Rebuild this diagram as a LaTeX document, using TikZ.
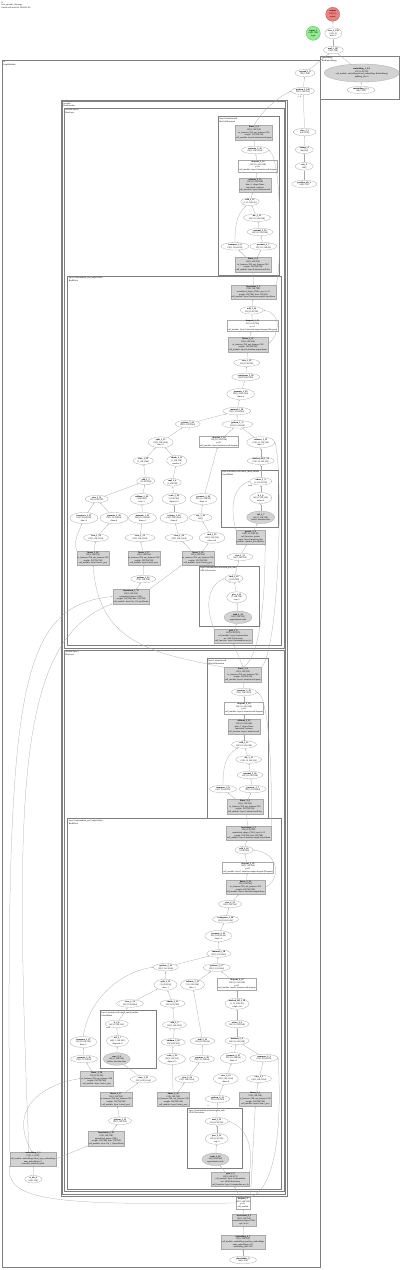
\documentclass[tikz,border=0pt]{standalone}
\usepackage{fontspec}
\setmainfont{Liberation Serif}
\usetikzlibrary{arrows.meta,shapes.geometric}
\definecolor{edgeGray}{HTML}{A8A8A8}
\definecolor{boxGray}{HTML}{7F7F7F}
\definecolor{fillGray}{HTML}{D3D3D3}
\definecolor{inGreen}{HTML}{90EE90}
\definecolor{outRed}{HTML}{F08080}
\begin{document}
\begin{tikzpicture}[x=1pt, y=-1pt,
  font=\fontsize{2.2}{2.7}\selectfont,
  op/.style={ellipse, draw=edgeGray, line width=0.3pt, inner sep=0pt, minimum width=#1, minimum height=7.5pt, align=center},
  op/.default=24pt,
  opt/.style={op=#1, minimum height=11pt},
  opt/.default=26pt,
  gop/.style={op=#1, minimum height=12.5pt, fill=fillGray},
  gop/.default=28pt,
  fn/.style={rectangle, fill=fillGray, draw=fillGray!80!black, line width=0.2pt, inner sep=0.7pt, align=center},
  mod/.style={rectangle, fill=white, draw=edgeGray, line width=0.3pt, inner sep=0.7pt, align=center},
  clus/.style={draw=boxGray, line width=0.5pt},
  clab/.style={anchor=north west, inner sep=0.5pt, align=left},
  io/.style={circle, inner sep=0pt, minimum size=14pt, align=center, fill=#1, draw=#1!70!black, line width=0.3pt},
  flow/.style={-{Latex[length=1.4pt,width=1.1pt]}, draw=edgeGray, line width=0.25pt},
  elab/.style={inner sep=0.2pt, font=\fontsize{1.8}{2}\selectfont}
]
\useasboundingbox (0,0) rectangle (400,1270);
\node[clab] (title) at (1,1) {G\\bert\_encoder\_2layer.py\\traced with torch.fx, 2024-01-09};

% clusters
\draw[clus, line width=1pt] (2,60) rectangle (320,1267);
\node[clab] at (2.5,60.5) {fx\\GraphModule};
\draw[clus, line width=0.8pt] (320.7,56) rectangle (399,99);
\node[clab] at (321.2,56.5) {embeddings\\BertEmbeddings};
\draw[clus] (61,100) rectangle (287,1196);
\draw[clus] (62.5,101.5) rectangle (285.5,1194.5);
\node[clab] at (63,102) {encoder\\BertEncoder};
\draw[clus] (64.3,108) rectangle (284,648);
\node[clab] at (64.8,108.5) {encoder.layer.0\\BertLayer};
\draw[clus] (218.3,116.7) rectangle (279,275);
\node[clab] at (218.8,117.2) {layer.0.attention.self\\BertSelfAttention};
\draw[clus] (67.7,276) rectangle (281.7,645.5);
\node[clab] at (68.2,276.5) {layer.0.intermediate\_and\_output.block\\BertBlock};
\draw[clus] (221,470) rectangle (278,527);
\node[clab] at (221.5,470.5) {layer.0.attention.self.causal\_mask\_builder\\CausalMask};
\draw[clus] (199.3,566) rectangle (259.3,626);
\node[clab] at (199.8,566.5) {layer.0.intermediate.activation.gelu\_tanh\\GELUActivation};
\draw[clus] (64.3,650) rectangle (284,1191.5);
\node[clab] at (64.8,650.5) {encoder.layer.1\\BertLayer};
\draw[clus] (207.3,658.7) rectangle (268.3,818);
\node[clab] at (207.8,659.2) {layer.1.attention.self\\BertSelfAttention};
\draw[clus] (67.7,818.7) rectangle (281.7,1189);
\node[clab] at (68.2,819.2) {layer.1.intermediate\_and\_output.block\\BertBlock};
\draw[clus] (100,1010.7) rectangle (156.7,1068.3);
\node[clab] at (100.5,1011.2) {layer.1.attention.self.causal\_mask\_builder\\CausalMask};
\draw[clus] (187.7,1108.3) rectangle (242.3,1168.3);
\node[clab] at (188.2,1108.8) {layer.1.intermediate.activation.gelu\_tanh\\GELUActivation};

% output side
\node[io=outRed] (out) at (332.7,14.3) {\textbf{output}\\f32[1,2]\\output};
\node[io=inGreen] (inp) at (313.3,33.3) {\textbf{input\_1}\\i64[1,128]\\input};
\node[opt=17pt] (viewo) at (333.3,33.3) {\textbf{view\_1\_199}\\f32[1,2]\\dim=-1};
\node[op=20pt] (mulo) at (333.3,50) {\textbf{mul\_1\_197}\\f32[1,768]};
\node[gop=75pt, minimum height=18pt] (wemb) at (361.7,73) {\textbf{embedding\_1\_2/4}\\f32[1,128,768]\\call\_module: embeddings.word\_embeddings (Embedding)\\padding\_idx=0};
\node[op=28pt] (ids) at (361,90) {\textbf{embeddings\_0\_1}\\i64[1,128]};
\node[op=20pt] (expd) at (305,73) {\textbf{expand\_1\_8}\\f32[1,768]};
\node[op=23pt] (gitem) at (303,91) {\textbf{getitem\_1\_196}\\f32[1,128,768]};
\node[elab] (gitemlab) at (299.5,97.5) {[:, 0]};
\node[op=23pt] (pos) at (304.7,132) {\textbf{slice\_1\_5}\\i64[1,128]};
\node[op=18pt] (ar) at (304.3,149.7) {\textbf{arange\_4}\\i64[128]};
\node[op=18pt] (sz) at (304.3,166.3) {\textbf{size\_3}\\i64[]};
\node[op=25pt] (ptype) at (304.3,184) {\textbf{position\_ids\_1}\\i64[1,512]};

% layer 0, attention
\node[fn] (a0q) at (254,132.5) {\textbf{linear\_2\_9}\\f32[1,128,768]\\in\_features=768, out\_features=768\\weight: f32[768,768]\\call\_module: layer.0.attention.self.query};
\node[op=27pt] (a0e1) at (255,150) {\textbf{permute\_2\_16}\\f32[1,128,12,64]};
\node[mod] (a0d) at (258,166) {\textbf{dropout\_2\_14}\\f32[1,12,128,128]\\p=0.1\\call\_module: layer.0.attention.self.dropout};
\node[fn] (a0g) at (255,185) {\textbf{softmax\_2\_13}\\f32[1,12,128,128]\\dim=-1, dtype=None\\functional: softmax\\call\_function: layer.0.attention.self};
\node[op=18pt] (a0e2) at (250,201.7) {\textbf{add\_2\_12}\\{}[1,12,128,128]};
\node[op=27pt] (a0e3) at (257,217.7) {\textbf{div\_2\_11}\\f32[1,12,128,128]};
\node[op=26pt] (a0e4) at (260,232) {\textbf{matmul\_2\_10}\\f32[1,12,128,128]};
\node[op=28pt] (a0e5) at (235,246.3) {\textbf{transpose\_2\_8}\\f32[1,12,64,128]};
\node[op=27pt] (a0e6) at (263.3,246.3) {\textbf{permute\_2\_7}\\f32[1,12,128,64]};
\node[fn] (a0k) at (253,264.5) {\textbf{linear\_2\_6}\\f32[1,128,768]\\in\_features=768, out\_features=768\\weight: f32[768,768]\\call\_module: layer.0.attention.self.key};

% layer 0, block
\node[fn] (b0ln) at (253.3,292) {\textbf{layernorm\_1\_5}\\f32[1,128,768]\\normalized\_shape=(768,), eps=1e-12\\weight: f32[768], bias: f32[768]\\call\_module: layer.0.attention.output.LayerNorm};
\node[op=23pt] (b0e1) at (251.7,310.3) {\textbf{add\_1\_24}\\f32[1,128,768]};
\node[mod] (b0d) at (252.5,325.5) {\textbf{dropout\_1\_23}\\f32[1,128,768]\\p=0.1\\call\_module: layer.0.attention.output.dropout (Dropout)};
\node[fn] (b0g) at (248,344.5) {\textbf{linear\_1\_22}\\f32[1,128,768]\\in\_features=768, out\_features=768\\weight: f32[768,768]\\call\_module: layer.0.attention.output.dense};
\node[op=26pt] (b0e2) at (246.7,362.7) {\textbf{view\_1\_21}\\f32[1,128,768]};
\node[op=28pt] (b0e3) at (245.7,377) {\textbf{contiguous\_1\_20}\\f32[1,128,12,64]};
\node[opt=28pt] (b0e4) at (240.7,394) {\textbf{permute\_1\_19}\\f32[1,128,12,64]\\dims=4};
\node[op=28pt] (b0e5) at (236.7,411) {\textbf{matmul\_1\_18}\\f32[1,12,128,64]};
\node[op=31pt] (b0e6) at (237.5,424.3) {\textbf{getitem\_1\_17}\\f32[1,12,128,64]};
\node[elab] (b0l6) at (241,430.3) {0};
\node[op=25pt] (b0e7) at (187.7,424) {\textbf{getitem\_1\_16}\\f32[1,12,128,64]};
\node[elab] (b0l7) at (189,430.3) {2};
\node[opt=25pt] (b0e8) at (160.7,442.3) {\textbf{split\_1\_15}\\f32[1,128,2304]\\dim=-1};
\node[mod] (b0d2) at (219,441.7) {\textbf{dropout\_1\_14}\\f32[1,12,128,128]\\p=0.1\\call\_module: layer.0.attention.self.dropout};
\node[opt=28pt] (b0e9) at (260.7,442.3) {\textbf{softmax\_1\_13}\\f32[1,12,128,128]\\dim=-1};
\node[op=20pt] (b0e10) at (143.3,460.7) {\textbf{view\_1\_12}\\{}[1,128,2304]};
\node[opt=20pt] (b0e11) at (176.7,460.7) {\textbf{chunk\_1\_11}\\{}[1,128,768]\\chunks=3};
\node[op=27pt] (b0e12) at (260.7,460.7) {\textbf{masked\_fill\_1\_10}\\f32[1,12,128,128]};
\node[op=22pt] (c0e1) at (260.7,481.3) {\textbf{where\_1\_9}\\{}[1,12,128,128]};
\node[elab] (c0l1) at (250,485.7) {mask};
\node[opt=22pt] (c0e2) at (260.7,498) {\textbf{lt\_1\_8}\\b8[1,1,128,128]\\value=0};
\node[gop=28pt] (c0e3) at (260.7,517.3) {\textbf{tril\_1\_7}\\b8[1,1,128,128]\\buffer: attention.bias};
\node[fn] (c0k) at (250.5,537) {\textbf{getattr\_1\_6}\\f32[1,12,128,128]\\call\_function: getattr\\target: layer.0.attention.bias\\attribute: masked\_bias (Buffer)};
\node[op=18pt] (b0e13) at (145.7,481) {\textbf{add\_1\_5}\\{}[1,128,2304]};
\node[op=18pt] (b0e14) at (172.3,482.3) {\textbf{mul\_1\_4}\\{}[1,128,768]};
\node[op=23pt] (b0e15) at (96.7,499) {\textbf{view\_1\_31}\\f32[1,128,768]};
\node[opt=23pt] (b0e16) at (141.7,499) {\textbf{addmm\_1\_30}\\{}[128,2304]\\beta=1};
\node[opt=24pt] (b0e17) at (174,499) {\textbf{scale\_1\_29}\\{}[1,128,768]\\alpha=0.5};
\node[opt=27pt] (b0e18) at (203.3,499) {\textbf{permute\_1\_28}\\f32[1,12,128,64]\\dims=4};
\node[opt=28pt] (b0e19) at (84,518) {\textbf{transpose\_1\_27}\\f32[1,12,64,128]\\dim=-2};
\node[opt=28pt] (b0e20) at (114,518) {\textbf{permute\_1\_26}\\f32[1,12,128,64]\\dims=4};
\node[opt=28pt] (b0e21) at (142.5,518) {\textbf{permute\_1\_25}\\f32[1,12,128,64]\\dims=4};
\node[opt=28pt] (b0e22) at (174,518) {\textbf{reshape\_1\_24}\\f32[1,128,12,64]\\dims=4};
\node[op=23pt] (b0e22b) at (200.5,517.5) {\textbf{size\_1\_23}\\i64[]};
\node[op=25pt] (b0e23) at (96,537.7) {\textbf{view\_1\_22}\\f32[1,128,12,64]};
\node[op=30pt] (b0e24) at (140,537.7) {\textbf{view\_1\_21}\\f32[1,128,12,64]};
\node[op=28pt] (b0e25) at (179,537.7) {\textbf{view\_1\_20}\\f32[1,128,12,64]};
\node[opt=26pt] (b0e26) at (212,537.7) {\textbf{mul\_1\_19}\\f32[1,128,768]\\other=8.0};
\node[fn] (b0k1) at (93,558) {\textbf{linear\_1\_18}\\f32[1,128,768]\\in\_features=768, out\_features=768\\weight: f32[768,768]\\call\_module: layer.0.attn.v\_proj};
\node[fn] (b0k2) at (144,558) {\textbf{linear\_1\_17}\\f32[1,128,768]\\in\_features=768, out\_features=768\\weight: f32[768,768]\\call\_module: layer.0.attn.k\_proj};
\node[fn] (b0k3) at (198,558) {\textbf{linear\_1\_16}\\f32[1,128,768]\\in\_features=768, out\_features=768\\weight: f32[768,768]\\call\_module: layer.0.attn.q\_proj};
\node[op=26pt] (b0e27) at (240,556.8) {\textbf{view\_1\_15}\\f32[1,128,768]};
\node[op=25pt] (b0e28) at (143.3,579) {\textbf{getitem\_1\_14}\\f32[1,128,768]};
\node[fn] (b0k4) at (131,596.5) {\textbf{layernorm\_1\_13}\\f32[1,128,768]\\normalized\_shape=(768,)\\weight: f32[768], bias: f32[768]\\call\_module: layer.0.ln\_1 (LayerNorm)};
\node[op=18pt] (d0e1) at (234,578.5) {\textbf{mul\_1\_12}\\{}[1,128,768]};
\node[elab] (d0l1) at (230,583.3) {0};
\node[elab] (d0l2) at (239.3,583.3) {1};
\node[opt=20pt] (d0e2) at (236.7,597.3) {\textbf{pow\_1\_11}\\{}[1,128,768]\\exp=3};
\node[gop=28pt] (d0e3) at (238,617.3) {\textbf{tanh\_1\_10}\\f32[1,128,768]\\approximate=tanh};
\node[fn] (d0k) at (233.3,636) {\textbf{gelu\_1\_9}\\f32[1,128,3072]\\call\_module: layer.0.intermediate\\act: GELUActivation\\call\_function: layer.0.intermediate.act\_fn};

% layer 1, attention
\node[fn] (a1q) at (243,674.5) {\textbf{linear\_3\_9}\\f32[1,128,768]\\in\_features=768, out\_features=768\\weight: f32[768,768]\\call\_module: layer.1.attention.self.query};
\node[op=25pt] (a1e1) at (244,692) {\textbf{permute\_3\_16}\\f32[1,128,12,64]};
\node[mod] (a1d) at (244,708) {\textbf{dropout\_3\_14}\\f32[1,12,128,128]\\p=0.1\\call\_module: layer.1.attention.self.dropout};
\node[fn] (a1g) at (244,726.5) {\textbf{softmax\_3\_13}\\f32[1,12,128,128]\\dim=-1, dtype=None\\functional: softmax\\call\_function: layer.1.attention.self};
\node[op=25pt] (a1e2) at (244,744.5) {\textbf{add\_3\_12}\\f32[1,12,128,128]};
\node[op=26pt] (a1e3) at (248.7,759.5) {\textbf{div\_3\_11}\\f32[1,12,128,128]};
\node[op=26pt] (a1e4) at (250,775) {\textbf{matmul\_3\_10}\\f32[1,12,128,128]};
\node[op=27pt] (a1e5) at (223,789) {\textbf{transpose\_3\_8}\\f32[1,12,64,128]};
\node[op=27pt] (a1e6) at (252.7,789) {\textbf{permute\_3\_7}\\f32[1,12,128,64]};
\node[fn] (a1k) at (245,806.5) {\textbf{linear\_3\_6}\\f32[1,128,768]\\in\_features=768, out\_features=768\\weight: f32[768,768]\\call\_module: layer.1.attention.self.key};

% layer 1, block
\node[fn] (b1ln) at (248.7,833) {\textbf{layernorm\_2\_5}\\f32[1,128,768]\\normalized\_shape=(768,), eps=1e-12\\weight: f32[768], bias: f32[768]\\call\_module: layer.1.attention.output.LayerNorm};
\node[op=18pt] (b1e1) at (244,850) {\textbf{add\_2\_24}\\{}[1,128,768]};
\node[mod] (b1d) at (248,867.7) {\textbf{dropout\_2\_23}\\f32[1,128,768]\\p=0.1\\call\_module: layer.1.attention.output.dropout (Dropout)};
\node[fn] (b1g) at (245.5,887) {\textbf{linear\_2\_22}\\f32[1,128,768]\\in\_features=768, out\_features=768\\weight: f32[768,768]\\call\_module: layer.1.attention.output.dense};
\node[op=23pt] (b1e2) at (230,904) {\textbf{view\_2\_21}\\f32[1,128,768]};
\node[op=26pt] (b1e3) at (225.5,919.3) {\textbf{contiguous\_2\_20}\\f32[1,128,12,64]};
\node[opt=27pt] (b1e4) at (218.3,936) {\textbf{permute\_2\_19}\\f32[1,128,12,64]\\dims=4};
\node[op=24pt] (b1e5) at (218.7,953.5) {\textbf{matmul\_2\_18}\\f32[1,12,128,64]};
\node[op=27pt] (b1e6) at (216.7,967.5) {\textbf{getitem\_2\_17}\\f32[1,12,128,64]};
\node[elab] (b1l6a) at (209.3,972.5) {0};
\node[elab] (b1l6b) at (221.7,972.5) {1};
\node[op=25pt] (b1e7) at (165.8,967.2) {\textbf{getitem\_2\_16}\\f32[1,12,128,64]};
\node[elab] (b1l7) at (165.7,973.7) {2};
\node[opt=23pt] (b1e8) at (165.5,984.7) {\textbf{split\_2\_15}\\{}[1,128,2304]\\dim=-1};
\node[opt=24pt] (b1e9) at (192.5,984.7) {\textbf{softmax\_2\_13}\\{}[1,12,128,128]\\dim=-1};
\node[mod] (b1d2) at (237,984.3) {\textbf{dropout\_2\_14}\\f32[1,12,128,128]\\p=0.1\\call\_module: layer.1.attention.self.dropout};
\node[op=27pt] (b1e10) at (130,1003.5) {\textbf{view\_2\_12}\\f32[1,128,2304]};
\node[op=25pt] (b1e11) at (172.5,1003.5) {\textbf{chunk\_2\_11}\\f32[1,128,768]};
\node[opt=24pt] (b1e12) at (237,1003.7) {\textbf{masked\_fill\_2\_10}\\{}[1,12,128,128]\\value=-inf};
\node[op=24pt] (b1e13) at (174.5,1024.7) {\textbf{add\_2\_5}\\f32[1,128,2304]};
\node[elab] (b1l13a) at (170,1030.3) {0};
\node[elab] (b1l13b) at (180,1030.3) {1};
\node[op=24pt] (b1e14) at (237,1024) {\textbf{where\_2\_9}\\f32[1,12,128,128]};
\node[op=23pt] (c1e1) at (116.7,1023.8) {\textbf{lt\_2\_8}\\b8[1,1,128,128]};
\node[elab] (c1l1) at (108.3,1028.3) {mask};
\node[opt=22pt] (c1e2) at (117.5,1041) {\textbf{tril\_2\_7}\\b8[1,1,128,128]\\diagonal=0};
\node[gop=27pt] (c1e3) at (116.7,1059) {\textbf{ones\_2\_6}\\b8[1,1,128,128]\\buffer: attention.bias};
\node[opt=27pt] (b1e15) at (83.3,1042) {\textbf{transpose\_2\_27}\\f32[1,12,64,128]\\dim=-2};
\node[op=24pt] (b1e16) at (173.3,1042.2) {\textbf{addmm\_2\_30}\\f32[128,2304]};
\node[op=25pt] (b1e17) at (202.5,1041) {\textbf{mul\_2\_19}\\f32[1,12,128,64]};
\node[op=24pt] (b1e18) at (237,1040.7) {\textbf{matmul\_2\_4}\\f32[1,12,128,128]};
\node[elab] (b1l18a) at (231.7,1046.7) {0};
\node[elab] (b1l18b) at (241.7,1046.7) {1};
\node[op=27pt] (b1e19) at (84,1059) {\textbf{permute\_2\_26}\\f32[1,12,128,64]};
\node[opt=27pt] (b1e20) at (172,1059) {\textbf{scale\_2\_29}\\f32[1,128,768]\\alpha=0.5};
\node[op=25pt] (b1e21) at (202,1059) {\textbf{permute\_2\_28}\\f32[1,12,128,64]};
\node[opt=26pt] (b1e22) at (233.3,1058) {\textbf{permute\_2\_25}\\f32[1,12,128,64]\\dims=4};
\node[op=28pt] (b1e23) at (264,1058) {\textbf{transpose\_2\_3}\\f32[1,12,64,128]};
\node[fn] (b1k1) at (96.7,1078.5) {\textbf{linear\_2\_18}\\f32[1,128,768]\\in\_features=768, out\_features=768\\weight: f32[768,768]\\call\_module: layer.1.attn.v\_proj};
\node[op=26pt] (b1e24) at (143.3,1079.2) {\textbf{view\_2\_22}\\f32[1,128,12,64]};
\node[op=24pt] (b1e25) at (187,1079) {\textbf{view\_2\_20}\\f32[1,128,12,64]};
\node[opt=25pt] (b1e26) at (225.8,1078.8) {\textbf{view\_2\_21}\\f32[1,128,12,64]\\dims=4};
\node[op=25pt] (b1e27) at (259,1078.7) {\textbf{view\_2\_2}\\f32[1,128,12,64]};
\node[fn] (b1k2) at (116,1099.2) {\textbf{linear\_2\_17}\\f32[1,128,768]\\in\_features=768, out\_features=768\\weight: f32[768,768]\\call\_module: layer.1.attn.k\_proj};
\node[fn] (b1k3) at (173.3,1099.2) {\textbf{linear\_2\_16}\\f32[1,128,768]\\in\_features=768, out\_features=768\\weight: f32[768,768]\\call\_module: layer.1.attn.q\_proj};
\node[op=25pt] (b1e28) at (217.5,1099) {\textbf{getitem\_2\_14}\\f32[1,128,768]};
\node[elab] (b1l28) at (208,1105.5) {0};
\node[fn] (b1k4) at (255.3,1098.8) {\textbf{linear\_2\_1}\\f32[1,128,768]\\in\_features=768, out\_features=768\\weight: f32[768,768]\\call\_module: layer.1.attn.c\_proj};
\node[op=23pt] (b1e29) at (120,1120.8) {\textbf{getitem\_2\_15}\\f32[1,128,768]};
\node[fn] (b1k5) at (106.3,1138.5) {\textbf{layernorm\_2\_13}\\f32[1,128,768]\\normalized\_shape=(768,)\\weight: f32[768], bias: f32[768]\\call\_module: layer.1.ln\_1 (LayerNorm)};
\node[op=23pt] (d1e1) at (216.7,1121.2) {\textbf{mul\_2\_12}\\f32[1,128,768]};
\node[elab] (d1l1) at (220,1126) {1};
\node[opt=23pt] (d1e2) at (216.7,1138.8) {\textbf{pow\_2\_11}\\f32[1,128,768]\\exp=3};
\node[gop=27pt] (d1e3) at (215.5,1159.3) {\textbf{tanh\_2\_10}\\f32[1,128,768]\\approximate=tanh};
\node[fn] (d1k) at (230.5,1179.2) {\textbf{gelu\_2\_9}\\f32[1,128,3072]\\call\_module: layer.1.intermediate\\act: GELUActivation\\call\_function: layer.1.intermediate.act\_fn};

% embeddings at the bottom
\node[mod] (drop) at (243,1203) {\textbf{dropout\_1}\\f32[1,128,768]\\p=0.1\\call\_module};
\node[fn] (bk1) at (244,1220) {\textbf{layernorm\_0\_2}\\f32[1,128,768]\\normalized\_shape=(768,)\\eps=1e-12};
\node[fn] (bk2) at (243,1242) {\textbf{embedding\_0\_1}\\f32[1,128,768]\\call\_module: embeddings.position\_embeddings\\num\_embeddings=512\\embedding\_dim=768};
\node[op=27pt] (bin) at (243,1260) {\textbf{placeholder\_0}\\i64[1,128]};
\node[fn] (embL) at (33,1158.7) {\textbf{embedding\_1\_3}\\f32[1,1,1,128]\\call\_module: embeddings.token\_type\_embeddings\\num\_embeddings=2\\extended\_attention\_mask};
\node[op=17pt] (embLin) at (33.3,1179.2) {\textbf{tt\_ids\_0}\\i64[1,128]};

% edges, top
\draw[flow] (viewo) -- (out);
\draw[flow] (mulo) -- (viewo);
\draw[flow] (wemb) -- (mulo);
\draw[flow] (expd) -- (mulo);
\draw[flow] (gitem) -- (expd);
\draw[flow] (pos) -- (gitem);
\draw[flow] (ar) -- (pos);
\draw[flow] (sz) -- (ar);
\draw[flow] (ptype) -- (sz);
\draw[flow] (ids) -- (wemb);
\draw[flow] (a0q.north) .. controls (262,110) and (280,96) .. (gitem.west);
% edges, layer 0
\draw[flow] (a0e1) -- (a0q);
\draw[flow] (a0d) -- (a0e1);
\draw[flow] (a0g) -- (a0d);
\draw[flow] (a0e2) -- (a0g);
\draw[flow] (a0e3) -- (a0e2);
\draw[flow] (a0e4) -- (a0e3);
\draw[flow] (a0e6) -- (a0e4);
\draw[flow] (a0e5) to[out=90,in=225] (a0e2);
\draw[flow] (a0k) -- (a0e5);
\draw[flow] (a0k) -- (a0e6);
\draw[flow] (b0ln) -- (a0k);
\draw[flow] (b0ln.north east) .. controls (282,270) and (282,160) .. (a0e1.east);
\draw[flow] (b0e1) -- (b0ln);
\draw[flow] (b0d) -- (b0e1);
\draw[flow] (b0g) -- (b0d);
\draw[flow] (b0g.east) .. controls (280,335) and (282,313) .. (b0e1.east);
\draw[flow] (b0e2) -- (b0g);
\draw[flow] (b0e3) -- (b0e2);
\draw[flow] (b0e4) -- (b0e3);
\draw[flow] (b0e5) -- (b0e4);
\draw[flow] (b0e6) -- (b0e5);
\draw[flow] (b0e7) -- (b0e5);
\draw[flow] (b0d2) -- (b0e6);
\draw[flow] (b0e9) -- (b0e6);
\draw[flow] (b0e8) -- (b0e7);
\draw[flow] (b0e10) -- (b0e8);
\draw[flow] (b0e11) -- (b0e8);
\draw[flow] (b0e12) -- (b0e9);
\draw[flow] (c0e1) -- (b0e12);
\draw[flow] (c0e2) -- (c0e1);
\draw[flow] (c0e3) -- (c0e2);
\draw[flow] (c0k) -- (c0e3);
\draw[flow] (c0k.north west) to[out=105,in=200] (c0e1.west);
\draw[flow] (b0e13) -- (b0e10);
\draw[flow] (b0e14) -- (b0e11);
\draw[flow] (b0e15) -- (b0e13);
\draw[flow] (b0e16) -- (b0e13);
\draw[flow] (b0e17) -- (b0e14);
\draw[flow] (b0e18) -- (b0d2);
\draw[flow] (b0e19) -- (b0e15);
\draw[flow] (b0e20) -- (b0e15);
\draw[flow] (b0e21) -- (b0e16);
\draw[flow] (b0e22) -- (b0e17);
\draw[flow] (b0e22b) -- (b0e18);
\draw[flow] (b0e23) -- (b0e20);
\draw[flow] (b0e24) -- (b0e21);
\draw[flow] (b0e25) -- (b0e22);
\draw[flow] (b0e26) -- (b0e22b);
\draw[flow] (b0k1) -- (b0e23);
\draw[flow] (b0k1.north west) to[out=110,in=250] (b0e19);
\draw[flow] (b0k2) -- (b0e24);
\draw[flow] (b0k3) -- (b0e25);
\draw[flow] (b0k3) -- (b0e26);
\draw[flow] (b0e27) -- (c0k);
\draw[flow] (d0e1) -- (b0e27);
\draw[flow] (d0e2) -- (d0e1);
\draw[flow] (d0e3) -- (d0e2);
\draw[flow] (d0k) -- (d0e3);
\draw[flow] (d0k.north west) to[out=115,in=200] (d0e1.west);
\draw[flow] (b0e28) -- (b0k2);
\draw[flow] (b0k4) -- (b0e28);
\draw[flow] (b0k4.north east) -- (b0k3.south west);
% edges, layer 0 to layer 1
\draw[flow] (a1q.north) -- (d0k.south);
\draw[flow] (a1q.north west) .. controls (150,653) and (99,642) .. (b0k1.south);
\draw[flow] (a1q.north) .. controls (265,655) and (265,565) .. (c0k.south east);
\draw[flow] (a1q.north east) .. controls (280,645) and (283,470) .. (b0e9.east);
% edges, layer 1
\draw[flow] (a1e1) -- (a1q);
\draw[flow] (a1d) -- (a1e1);
\draw[flow] (a1g) -- (a1d);
\draw[flow] (a1e2) -- (a1g);
\draw[flow] (a1e3) -- (a1e2);
\draw[flow] (a1e4) -- (a1e3);
\draw[flow] (a1e6) -- (a1e4);
\draw[flow] (a1e5) to[out=90,in=210] (a1e2);
\draw[flow] (a1k) -- (a1e5);
\draw[flow] (a1k) -- (a1e6);
\draw[flow] (b1ln) -- (a1k);
\draw[flow] (b1ln.north east) .. controls (272,812) and (272,700) .. (a1e1.east);
\draw[flow] (b1e1) -- (b1ln);
\draw[flow] (b1d) -- (b1e1);
\draw[flow] (b1g) -- (b1d);
\draw[flow] (b1g.east) .. controls (281,880) and (280,853) .. (b1e1.east);
\draw[flow] (b1e2) -- (b1g);
\draw[flow] (b1e3) -- (b1e2);
\draw[flow] (b1e4) -- (b1e3);
\draw[flow] (b1e5) -- (b1e4);
\draw[flow] (b1e6) -- (b1e5);
\draw[flow] (b1e7) -- (b1e5);
\draw[flow] (b1d2) -- (b1e6);
\draw[flow] (b1e9) -- (b1e6);
\draw[flow] (b1e8) -- (b1e7);
\draw[flow] (b1e10) -- (b1e8);
\draw[flow] (b1e11) -- (b1e8);
\draw[flow] (b1e12) -- (b1d2);
\draw[flow] (b1e14) -- (b1e12);
\draw[flow] (b1e18) -- (b1e14);
\draw[flow] (b1e13) -- (b1e11);
\draw[flow] (b1e16) -- (b1e13);
\draw[flow] (b1e17) -- (b1e9);
\draw[flow] (c1e1) -- (b1e10);
\draw[flow] (c1e2) -- (c1e1);
\draw[flow] (c1e3) -- (c1e2);
\draw[flow] (b1e15.north) .. controls (88,1000) and (120,972) .. (b1e7.west);
\draw[flow] (b1e19) -- (b1e15);
\draw[flow] (b1e20) -- (b1e16);
\draw[flow] (b1e21) -- (b1e17);
\draw[flow] (b1e22) -- (b1e18);
\draw[flow] (b1e23) -- (b1e18);
\draw[flow] (b1k1) -- (b1e19);
\draw[flow] (b1e24) -- (c1e3);
\draw[flow] (b1e25) -- (b1e21);
\draw[flow] (b1e26) -- (b1e22);
\draw[flow] (b1e27) -- (b1e23);
\draw[flow] (b1k2) -- (b1e24);
\draw[flow] (b1k3) -- (b1e20);
\draw[flow] (b1k3) -- (b1e25);
\draw[flow] (b1e28) -- (b1e26);
\draw[flow] (b1k4) -- (b1e27);
\draw[flow] (b1e29) -- (b1k2);
\draw[flow] (b1k5) -- (b1e29);
\draw[flow] (d1e1) -- (b1e28);
\draw[flow] (d1e2) -- (d1e1);
\draw[flow] (d1e3) -- (d1e2);
\draw[flow] (d1k) -- (d1e3);
\draw[flow] (d1k.north east) to[out=80,in=-20] (d1e1.east);
% edges, bottom
\draw[flow] (drop) -- (d1k);
\draw[flow] (drop.north east) -- (b1k4.south);
\draw[flow] (drop.north east) .. controls (270,1190) and (283,1150) .. (b1e23.east);
\draw[flow] (bk1) -- (drop);
\draw[flow] (bk2) -- (bk1);
\draw[flow] (bin) -- (bk2);
\draw[flow] (drop.west) .. controls (60,1205) and (6,1202) .. (embL.south west);
\draw[flow] (embLin) -- (embL);
\draw[flow] (embL.north west) .. controls (6,700) and (15,606) .. (b0k4.west);
\draw[flow] (embL.120) .. controls (15,800) and (15,640) .. (b0k4.south west);
\draw[flow] (embL.100) .. controls (8,1110) and (40,1085) .. (b1k1.west);
\draw[flow] (embL.east) -- (b1k5.south west);
\end{tikzpicture}
\end{document}
